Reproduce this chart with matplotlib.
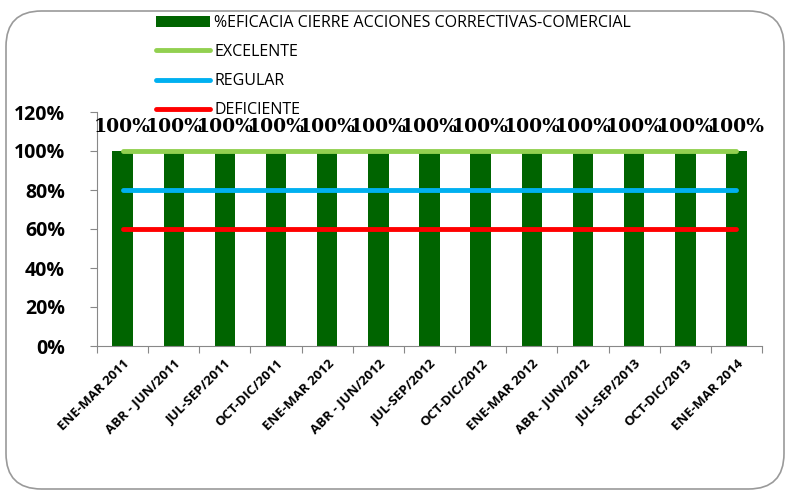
import matplotlib.pyplot as plt
from matplotlib.patches import FancyBboxPatch
from matplotlib.lines import Line2D
from matplotlib.patches import Patch
import numpy as np

periodos = ["ENE-MAR 2011", "ABR - JUN/2011", "JUL-SEP/2011", "OCT-DIC/2011",
            "ENE-MAR 2012", "ABR - JUN/2012", "JUL-SEP/2012", "OCT-DIC/2012",
            "ENE-MAR 2012", "ABR - JUN/2012", "JUL-SEP/2013", "OCT-DIC/2013",
            "ENE-MAR 2014"]
eficacia = [1.0, 1.0, 1.0, 1.0, 1.0, 1.0, 1.0, 1.0, 1.0, 1.0, 1.0, 1.0, 1.0]
excelente = [1.0] * 13
regular = [0.8] * 13
deficiente = [0.6] * 13

plt.rcParams['font.family'] = ['Open Sans', 'DejaVu Sans']

fig = plt.figure(figsize=(7.88, 4.91), dpi=100)
ax = fig.add_axes([97 / 788, 1 - 346 / 491, 665 / 788, 234 / 491])

# rounded frame around the chart
frame = FancyBboxPatch((6 / 788, 2 / 491), 778 / 788, 478 / 491,
                       boxstyle="round,pad=0,rounding_size=0.045",
                       transform=fig.transFigure, facecolor="none",
                       edgecolor="#9a9a9a", linewidth=1.2, mutation_aspect=788 / 491)
fig.patches.append(frame)

x = np.arange(len(periodos))
ax.bar(x, eficacia, width=0.4, color="#006400", zorder=2)
ax.plot(x, excelente, color="#92d050", linewidth=3.5, zorder=3, solid_capstyle="round")
ax.plot(x, regular, color="#00b0f0", linewidth=3.5, zorder=3, solid_capstyle="round")
ax.plot(x, deficiente, color="#ff0000", linewidth=3.5, zorder=3, solid_capstyle="round")

for xi, v in zip(x, eficacia):
    ax.text(xi, v + 0.075, f"{v:.0%}", ha="center", va="bottom",
            fontsize=13.5, fontweight="bold", family="DejaVu Serif", zorder=4)

ax.set_xlim(-0.5, len(periodos) - 0.5)
ax.set_ylim(0, 1.2)
ax.set_yticks(np.arange(0, 1.21, 0.2))
ax.set_yticklabels([f"{int(round(t * 100))}%" for t in np.arange(0, 1.21, 0.2)],
                   fontsize=14, fontweight="bold")
ax.set_xticks(np.arange(-0.5, len(periodos), 1.0))
ax.set_xticklabels([])
ax.set_xticks(x, minor=True)
ax.set_xticklabels(periodos, minor=True, rotation=45, ha="right",
                   rotation_mode="anchor", fontsize=9.5, fontweight="bold")
ax.tick_params(axis="x", which="minor", length=0, pad=8)
ax.tick_params(axis="x", which="major", length=5, color="#888888")
ax.tick_params(axis="y", length=5, color="#888888", pad=18)
for s in ["top", "right"]:
    ax.spines[s].set_visible(False)
for s in ["left", "bottom"]:
    ax.spines[s].set_color("#888888")

handles = [Patch(facecolor="#006400"),
           Line2D([], [], color="#92d050", linewidth=3.5, solid_capstyle="round"),
           Line2D([], [], color="#00b0f0", linewidth=3.5, solid_capstyle="round"),
           Line2D([], [], color="#ff0000", linewidth=3.5, solid_capstyle="round")]
labels = ["%EFICACIA CIERRE ACCIONES CORRECTIVAS-COMERCIAL", "EXCELENTE", "REGULAR", "DEFICIENTE"]
fig.legend(handles, labels, loc="upper left", bbox_to_anchor=(148 / 788, 1 - 7 / 491),
           frameon=False, fontsize=11.5, handlelength=3.4, handletextpad=0.25,
           labelspacing=0.82, borderpad=0)

fig.savefig("out.png", dpi=100)
